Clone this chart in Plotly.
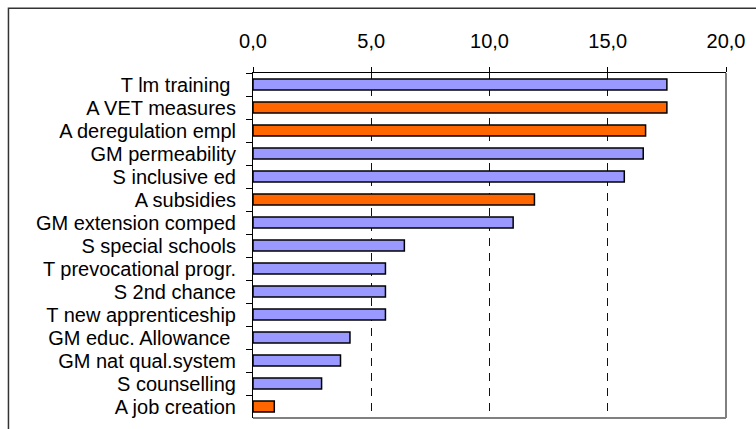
import plotly.graph_objects as go

# Measures, listed top to bottom, with their scores
measures = [
    "T lm training\u00a0",
    "A VET measures",
    "A deregulation empl",
    "GM permeability",
    "S inclusive ed",
    "A subsidies",
    "GM extension comped",
    "S special schools",
    "T prevocational progr.",
    "S 2nd chance",
    "T new apprenticeship",
    "GM educ. Allowance\u00a0",
    "GM nat qual.system",
    "S counselling",
    "A job creation",
]
scores = [17.5, 17.5, 16.6, 16.5, 15.7, 11.9, 11.0, 6.4, 5.6, 5.6, 5.6, 4.1, 3.7, 2.9, 0.9]
x_ticks = [0, 5, 10, 15, 20]

BLUE = "#9999FF"
ORANGE = "#FF6600"
bar_colors = [ORANGE if m.startswith("A ") else BLUE for m in measures]

fig = go.Figure(
    go.Bar(
        x=scores,
        y=measures,
        orientation="h",
        marker=dict(color=bar_colors, line=dict(color="#000000", width=1.5)),
        hoverinfo="x+y",
    )
)

fig.update_layout(
    width=756,
    height=429,
    margin=dict(l=253, r=30, t=73, b=11),
    paper_bgcolor="#FFFFFF",
    plot_bgcolor="#FFFFFF",
    bargap=0.52,
    showlegend=False,
    separators=",.",
    font=dict(family="Liberation Sans, Arial, sans-serif", size=20, color="#000000"),
    xaxis=dict(
        side="top",
        range=[0, 20],
        tickvals=x_ticks,
        tickformat=".1f",
        ticks="outside",
        ticklen=5,
        tickwidth=1,
        tickcolor="#000000",
        ticklabelstandoff=11,
        showline=True,
        linecolor="#000000",
        linewidth=1,
        showgrid=True,
        gridcolor="#111111",
        gridwidth=1,
        griddash="8px,7px",
        zeroline=False,
        fixedrange=True,
    ),
    yaxis=dict(
        type="category",
        autorange="reversed",
        tickmode="linear",
        tick0=0,
        dtick=1,
        tickson="boundaries",
        ticks="outside",
        ticklen=6,
        tickwidth=1,
        tickcolor="#000000",
        ticklabelstandoff=12,
        showline=True,
        linecolor="#000000",
        linewidth=1,
        showgrid=False,
        zeroline=False,
        fixedrange=True,
    ),
    shapes=[
        # gray right and bottom edges of the plotting area
        dict(type="line", xref="paper", yref="paper", x0=1, x1=1, y0=0, y1=1,
             line=dict(color="#808080", width=2)),
        dict(type="line", xref="paper", yref="paper", x0=0, x1=1, y0=0, y1=0,
             line=dict(color="#808080", width=2)),
        # outer chart frame
        dict(type="rect", xref="paper", yref="paper",
             x0=-0.517, x1=1.08, y0=-0.06, y1=1.188,
             line=dict(color="#333333", width=1.5), layer="below"),
    ],
)

fig.write_html("out.html")
